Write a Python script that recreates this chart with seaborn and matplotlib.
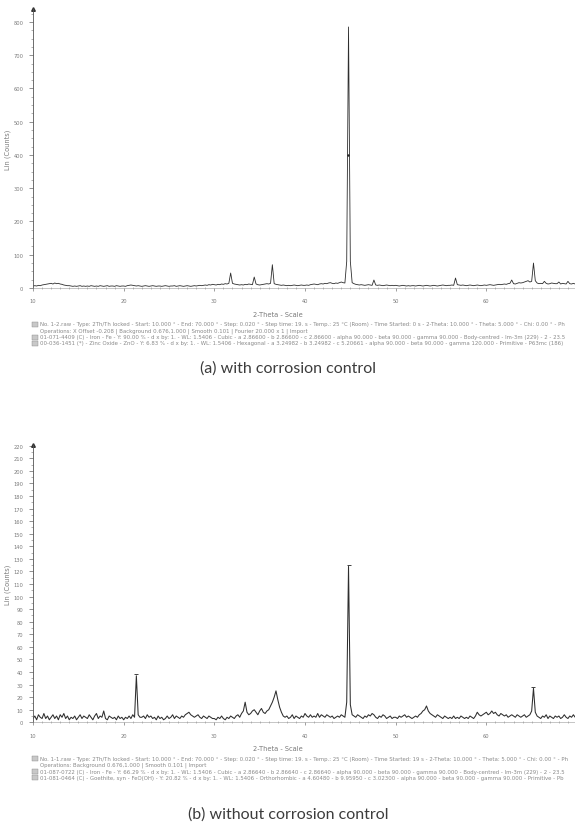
import numpy as np
import pandas as pd
import matplotlib
matplotlib.use("Agg")
import matplotlib.pyplot as plt
from matplotlib.ticker import MultipleLocator
from matplotlib.patches import Rectangle
import seaborn as sns

# ---------------- data ----------------
TT_START = 10.0   # scan start (deg 2-theta)
TT_END = 70.0     # scan end
TT_STEP = 0.2     # scan step

# (a) with corrosion control, Lin (Counts) per step, 10.0 ... 70.0
counts_a = [
    6, 7, 6, 8, 7, 9, 10, 11, 12, 13,        # 10.0
    14, 12, 15, 13, 14, 12, 11, 9, 8, 7,     # 12.0
    7, 6, 5, 6, 5, 6, 7, 5, 6, 5,            # 14.0
    6, 5, 7, 6, 5, 6, 5, 7, 6, 5,            # 16.0
    6, 7, 5, 6, 6, 5, 7, 6, 5, 6,            # 18.0
    6, 5, 7, 8, 9, 8, 7, 6, 7, 6,            # 20.0
    5, 6, 7, 6, 5, 6, 7, 6, 5, 6,            # 22.0
    6, 5, 6, 7, 6, 5, 6, 6, 7, 5,            # 24.0
    6, 7, 6, 5, 6, 7, 6, 5, 6, 7,            # 26.0
    6, 7, 8, 7, 8, 9, 8, 10, 9, 11,          # 28.0
    10, 9, 11, 10, 12, 11, 13, 12, 14, 45,   # 30.0
    14, 12, 11, 10, 9, 10, 9, 11, 10, 12,    # 32.0
    11, 10, 33, 12, 10, 9, 10, 11, 12, 13,   # 34.0
    12, 14, 70, 13, 11, 10, 9, 8, 9, 8,      # 36.0
    7, 8, 7, 8, 9, 8, 7, 8, 9, 8,            # 38.0
    8, 9, 8, 10, 11, 12, 11, 10, 12, 13,     # 40.0
    12, 14, 13, 15, 16, 14, 13, 15, 14, 16,  # 42.0
    18, 16, 15, 80, 785, 80, 16, 13, 11, 10, # 44.0
    9, 10, 9, 8, 9, 10, 9, 8, 24, 9,         # 46.0
    8, 9, 8, 7, 8, 9, 8, 7, 8, 7,            # 48.0
    8, 7, 6, 7, 8, 7, 6, 7, 6, 7,            # 50.0
    7, 6, 7, 8, 7, 6, 7, 8, 7, 6,            # 52.0
    7, 8, 7, 6, 7, 8, 9, 8, 7, 8,            # 54.0
    8, 9, 8, 30, 10, 9, 8, 9, 8, 7,          # 56.0
    8, 9, 8, 7, 8, 9, 8, 7, 8, 9,            # 58.0
    8, 9, 10, 9, 8, 9, 10, 11, 10, 11,       # 60.0
    12, 11, 13, 14, 24, 13, 12, 14, 16, 15,  # 62.0
    16, 18, 20, 22, 18, 20, 75, 22, 15, 13,  # 64.0
    14, 13, 20, 14, 12, 13, 15, 14, 13, 13,  # 66.0
    18, 12, 14, 13, 12, 20, 13, 12, 14, 12,  # 68.0
    13,                                      # 70.0
]

# (b) without corrosion control, Lin (Counts) per step, 10.0 ... 70.0
counts_b = [
    3, 5, 2, 6, 4, 3, 7, 3, 5, 2,            # 10.0
    4, 6, 3, 5, 2, 6, 4, 7, 3, 5,            # 12.0
    2, 4, 3, 5, 2, 4, 6, 3, 5, 4,            # 14.0
    3, 6, 4, 2, 5, 7, 3, 5, 4, 9,            # 16.0
    3, 2, 5, 4, 3, 4, 2, 5, 3, 4,            # 18.0
    2, 4, 3, 5, 3, 6, 4, 37, 6, 4,           # 20.0
    4, 5, 3, 6, 4, 5, 3, 4, 2, 5,            # 22.0
    3, 4, 2, 3, 5, 3, 4, 6, 3, 5,            # 24.0
    4, 3, 5, 4, 6, 7, 8, 6, 5, 4,            # 26.0
    5, 6, 4, 3, 5, 4, 3, 5, 4, 3,            # 28.0
    3, 2, 4, 3, 5, 3, 2, 4, 3, 5,            # 30.0
    4, 3, 5, 6, 4, 7, 9, 16, 8, 6,           # 32.0
    7, 9, 10, 8, 6, 9, 11, 8, 7, 9,          # 34.0
    10, 13, 16, 20, 25, 18, 12, 8, 5, 4,     # 36.0
    5, 3, 4, 6, 3, 5, 4, 3, 5, 4,            # 38.0
    7, 5, 4, 6, 4, 5, 4, 7, 4, 6,            # 40.0
    5, 4, 6, 5, 4, 5, 3, 4, 5, 4,            # 42.0
    6, 5, 4, 16, 124, 14, 6, 5, 4, 6,        # 44.0
    5, 4, 3, 5, 4, 6, 5, 7, 6, 4,            # 46.0
    3, 5, 4, 6, 5, 3, 4, 5, 3, 4,            # 48.0
    4, 3, 5, 4, 5, 6, 4, 5, 4, 3,            # 50.0
    4, 5, 4, 6, 7, 9, 10, 13, 9, 7,          # 52.0
    6, 5, 4, 6, 5, 4, 3, 5, 4, 3,            # 54.0
    4, 3, 5, 3, 4, 3, 5, 4, 3, 4,            # 56.0
    3, 5, 4, 3, 5, 8, 6, 5, 6, 7,            # 58.0
    8, 6, 7, 9, 7, 8, 6, 5, 7, 6,            # 60.0
    5, 6, 4, 5, 6, 5, 4, 6, 5, 4,            # 62.0
    5, 6, 4, 5, 6, 9, 27, 8, 5, 4,           # 64.0
    3, 5, 4, 6, 3, 5, 4, 3, 5, 4,            # 66.0
    5, 3, 4, 6, 4, 3, 5, 4, 6, 4,            # 68.0
    5,                                       # 70.0
]

# small marker dot on the main peak flank of (a)
mark_a_tt = [44.69]
mark_a_counts = [400]
# peaks of (b) carrying a small stick-top mark
mark_b_tt = [21.4, 44.8, 65.2]

x_ticks = [10, 20, 30, 40, 50, 60]
x_tick_labels = ["10", "20", "30", "40", "50", "60"]
y_ticks_a = [0, 100, 200, 300, 400, 500, 600, 700, 800]
y_ticks_b = list(range(0, 221, 10))

caption_a = "(a) with corrosion control"
caption_b = "(b) without corrosion control"
x_title = "2-Theta - Scale"
y_title = "Lin (Counts)"

legend_a = [
    "No. 1-2.raw - Type: 2Th/Th locked - Start: 10.000 \u00b0 - End: 70.000 \u00b0 - Step: 0.020 \u00b0 - Step time: 19. s - Temp.: 25 \u00b0C (Room) - Time Started: 0 s - 2-Theta: 10.000 \u00b0 - Theta: 5.000 \u00b0 - Chi: 0.00 \u00b0 - Ph",
    "Operations: X Offset -0.208 | Background 0.676,1.000 | Smooth 0.101 | Fourier 20.000 x 1 | Import",
    "01-071-4409 (C) - Iron - Fe - Y: 90.00 % - d x by: 1. - WL: 1.5406 - Cubic - a 2.86600 - b 2.86600 - c 2.86600 - alpha 90.000 - beta 90.000 - gamma 90.000 - Body-centred - Im-3m (229) - 2 - 23.5",
    "00-036-1451 (*) - Zinc Oxide - ZnO - Y: 6.83 % - d x by: 1. - WL: 1.5406 - Hexagonal - a 3.24982 - b 3.24982 - c 5.20661 - alpha 90.000 - beta 90.000 - gamma 120.000 - Primitive - P63mc (186)",
]
legend_b = [
    "No. 1-1.raw - Type: 2Th/Th locked - Start: 10.000 \u00b0 - End: 70.000 \u00b0 - Step: 0.020 \u00b0 - Step time: 19. s - Temp.: 25 \u00b0C (Room) - Time Started: 19 s - 2-Theta: 10.000 \u00b0 - Theta: 5.000 \u00b0 - Chi: 0.00 \u00b0 - Ph",
    "Operations: Background 0.676,1.000 | Smooth 0.101 | Import",
    "01-087-0722 (C) - Iron - Fe - Y: 66.29 % - d x by: 1. - WL: 1.5406 - Cubic - a 2.86640 - b 2.86640 - c 2.86640 - alpha 90.000 - beta 90.000 - gamma 90.000 - Body-centred - Im-3m (229) - 2 - 23.5",
    "01-081-0464 (C) - Goethite, syn - FeO(OH) - Y: 20.82 % - d x by: 1. - WL: 1.5406 - Orthorhombic - a 4.60480 - b 9.95950 - c 3.02300 - alpha 90.000 - beta 90.000 - gamma 90.000 - Primitive - Pb",
]

# ---------------- drawing ----------------
sns.set_theme(style="white")
plt.rcParams['font.family'] = ['DejaVu Sans']

W, H = 575, 828
fig = plt.figure(figsize=(W / 100, H / 100), dpi=100)
fig.patch.set_facecolor("white")

LINE = "#2e2e2e"
TXT = "#7a7a7a"


def fy(py):
    return 1 - py / H


def make_df(counts):
    tt = TT_START + TT_STEP * np.arange(len(counts))
    return pd.DataFrame({"2theta": tt, "counts": counts})


def panel(counts, zero_px, top_px, ylim_top, yticks, minor_y, lw):
    ax = fig.add_axes([33 / W, fy(zero_px), 544 / W, (zero_px - top_px) / H])
    df = make_df(counts)
    sns.lineplot(data=df, x="2theta", y="counts", ax=ax, color=LINE,
                 linewidth=lw, estimator=None, sort=False)
    ax.set_xlim(TT_START, TT_END)
    ax.set_ylim(0, ylim_top)
    ax.set_xticks(x_ticks)
    ax.set_xticklabels(x_tick_labels)
    ax.xaxis.set_minor_locator(MultipleLocator(1))
    ax.set_yticks(yticks)
    ax.set_yticklabels([str(v) for v in yticks])
    ax.yaxis.set_minor_locator(MultipleLocator(minor_y))
    ax.set_xlabel("")
    ax.set_ylabel("")
    for s in ("top", "right"):
        ax.spines[s].set_visible(False)
    ax.spines["left"].set_color("#555555")
    ax.spines["left"].set_linewidth(0.6)
    ax.spines["bottom"].set_color("#9a9a9a")
    ax.spines["bottom"].set_linewidth(0.4)
    ax.tick_params(axis="y", which="major", direction="out", length=3,
                   width=0.5, color="#666666", labelsize=3.7,
                   labelcolor=TXT, pad=4, left=True)
    ax.tick_params(axis="y", which="minor", direction="out", length=1.6,
                   width=0.4, color="#777777", left=True)
    ax.tick_params(axis="x", which="major", direction="out", length=2.5,
                   width=0.5, color="#777777", labelsize=3.7,
                   labelcolor=TXT, pad=5, bottom=True)
    ax.tick_params(axis="x", which="minor", direction="inout", length=2,
                   width=0.4, color="#888888", bottom=True)
    ax.grid(False)
    ax.set_facecolor("white")
    ax.plot([0], [1], marker="^", ms=2.6, color="#333333",
            transform=ax.transAxes, clip_on=False)
    return ax, df


def captions(zero_px, legend_lines, caption, cap_px, ylab_center):
    fig.text(278 / W, fy(zero_px + 26), x_title, ha="center", va="center",
             fontsize=4.8, color=TXT)
    fig.text(8 / W, fy(ylab_center), y_title, rotation=90, ha="center",
             va="center", fontsize=4.8, color=TXT)
    rows = [zero_px + 36, zero_px + 42, zero_px + 49, zero_px + 55]
    for i, (txt, ry) in enumerate(zip(legend_lines, rows)):
        if i != 1:
            fig.patches.append(Rectangle((32 / W, fy(ry + 2.5)), 6 / W, 5 / H,
                                         transform=fig.transFigure,
                                         facecolor="#c8c8c8",
                                         edgecolor="#888888", linewidth=0.3))
        fig.text(40 / W, fy(ry), txt, ha="left", va="center", fontsize=3.9,
                 color="#8a8a8a")
    fig.text(288 / W, fy(cap_px), caption, ha="center", va="center",
             fontsize=11.5, color="#3c3c3c", family=["Lato", "DejaVu Sans"])


ax_a, df_a = panel(counts_a, 289, 10, 839, y_ticks_a, 25, 0.6)
ax_a.scatter(mark_a_tt, mark_a_counts, s=3, color="#222222", zorder=5,
             linewidths=0)
captions(289, legend_a, caption_a, 369, 150)

ax_b, df_b = panel(counts_b, 723.3, 446, 220.6, y_ticks_b, 5, 0.75)
tops = df_b.set_index(df_b["2theta"].round(1))["counts"]
ax_b.scatter(mark_b_tt, [tops[round(t, 1)] + 1.2 for t in mark_b_tt],
             s=5, marker="_", color="#222222", zorder=5, linewidths=0.6)
captions(723.3, legend_b, caption_b, 815, 585)

fig.savefig("out.png", dpi=100, facecolor="white")
